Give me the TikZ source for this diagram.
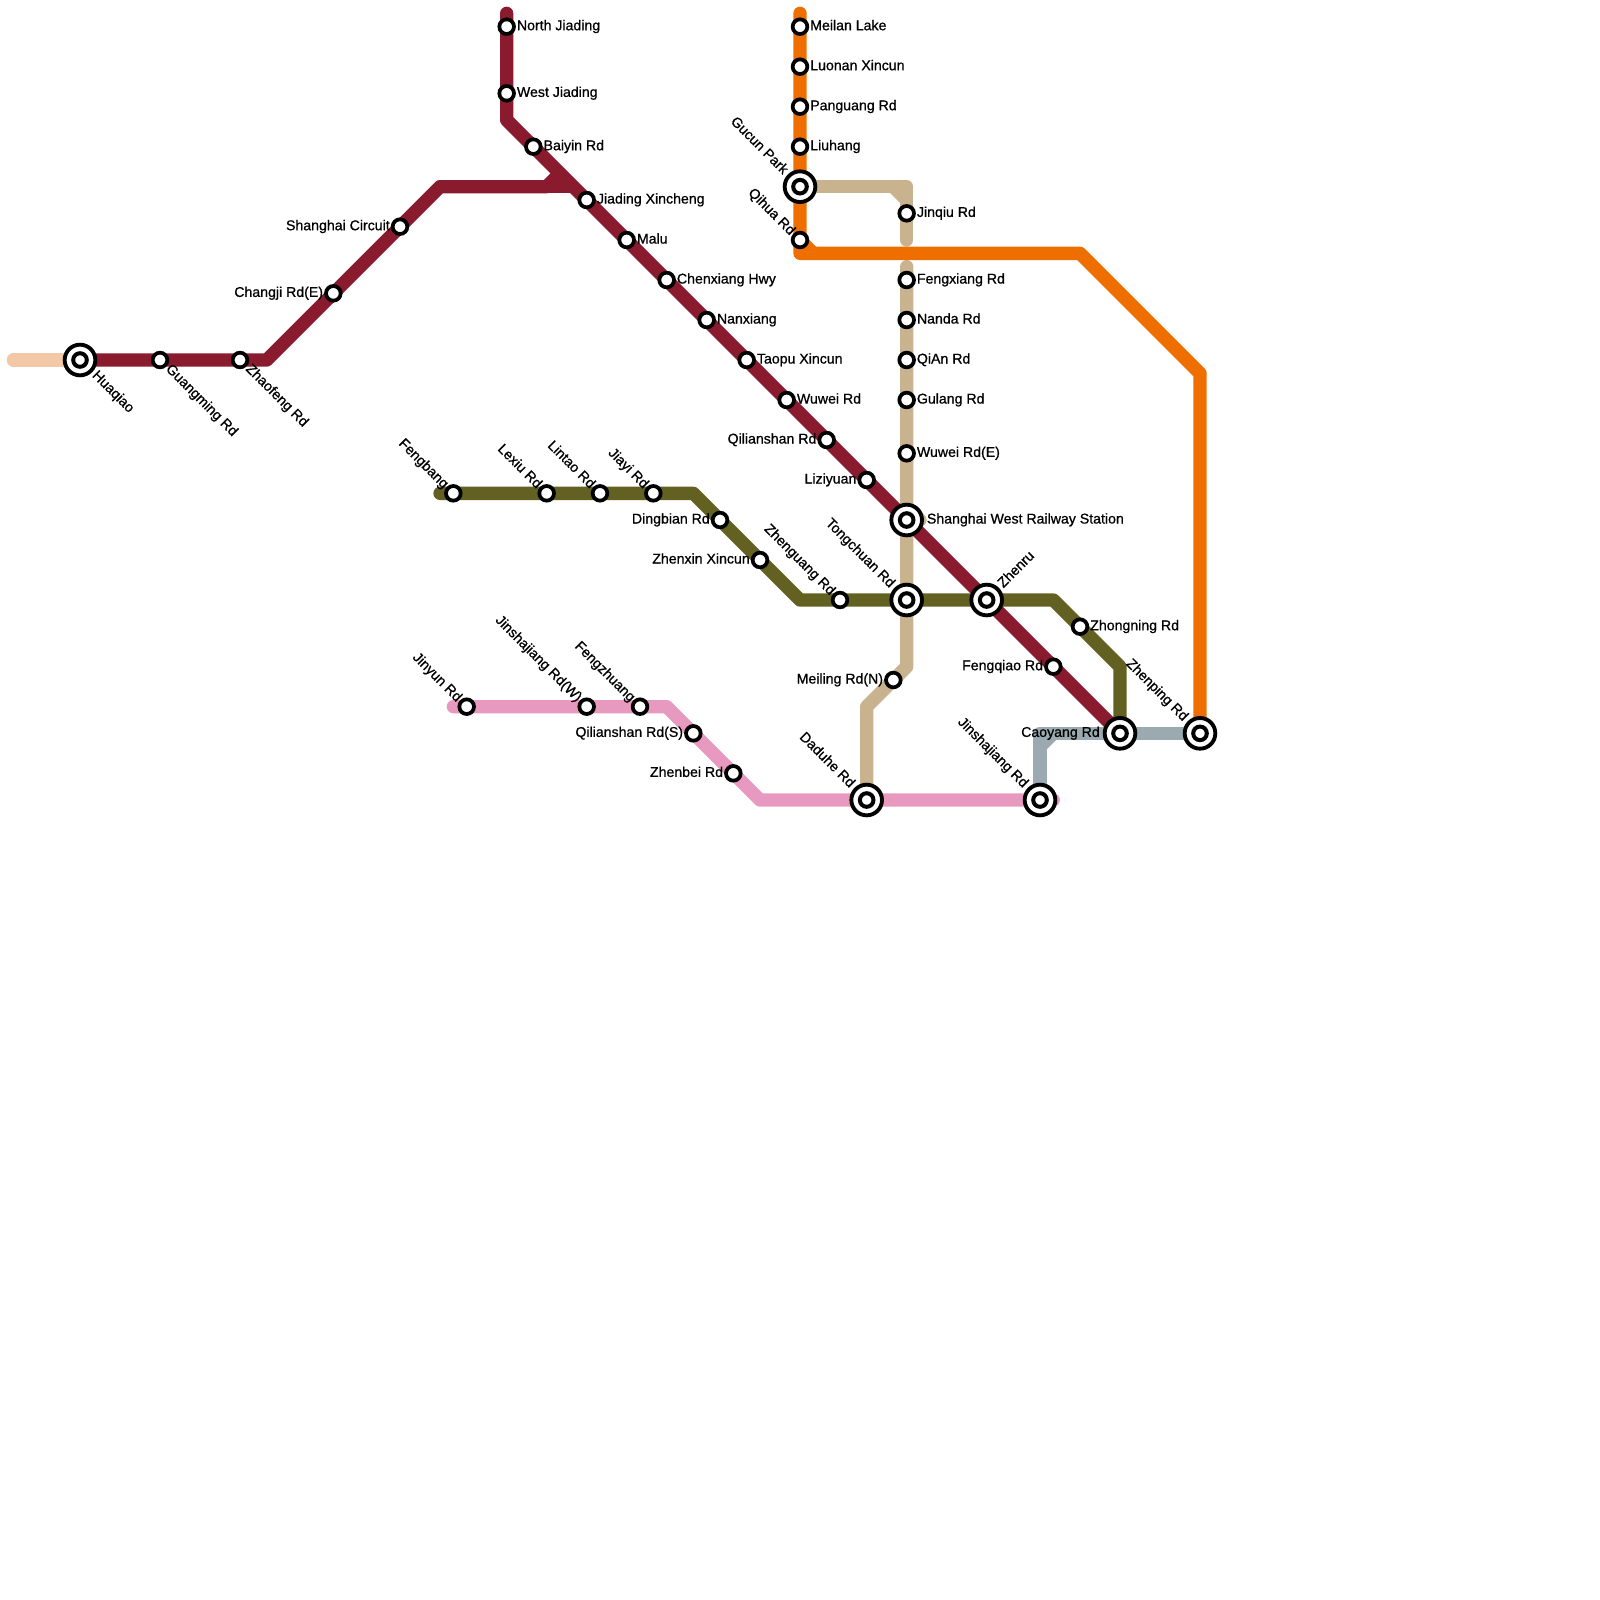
\documentclass[tikz,border=0pt]{standalone}
\usepackage{fontspec}
\setmainfont{Liberation Sans}[RawFeature={embolden=0.8}]
\usetikzlibrary{backgrounds}
\definecolor{cred}{HTML}{8A1A2E}
\definecolor{corange}{HTML}{EE6F00}
\definecolor{ctan}{HTML}{C9B38F}
\definecolor{colive}{HTML}{636122}
\definecolor{cpink}{HTML}{E899C0}
\definecolor{cgrey}{HTML}{9BAAB0}
\definecolor{cpeach}{HTML}{F3C8A6}
\tikzset{
  x=0.75pt,y=-0.75pt,
  metro/.style={line width=10pt,line cap=round,line join=round},
  metrobutt/.style={line width=10pt,line cap=butt,line join=round},
  stn/.style={circle,draw=black,fill=white,line width=2.8pt,inner sep=0pt,minimum size=11pt},
  hubo/.style={circle,draw=black,fill=white,line width=2.9pt,inner sep=0pt,minimum size=23pt},
  hubi/.style={circle,draw=black,fill=white,line width=3pt,inner sep=0pt,minimum size=10.2pt},
  lbl/.style={inner sep=0pt,font=\fontsize{10.6}{12}\selectfont,text height=7.3pt,text depth=2pt,text=black},
}
\newcommand{\Stn}[3]{\node[stn] (#1) at (#2,#3) {};}
\newcommand{\Hub}[3]{\node[hubo] (#1) at (#2,#3) {};\node[hubi] (#1c) at (#2,#3) {};}
\newcommand{\Rt}[2]{\path (#1) ++(10,0) node[lbl,anchor=west] (#1-l) {#2};}
\newcommand{\Lf}[2]{\path (#1) ++(-10,0) node[lbl,anchor=east] (#1-l) {#2};}
\newcommand{\SE}[2]{\path (#1) ++(7.5,7) node[lbl,anchor=west,rotate=-45] (#1-l) {#2};}
\newcommand{\NW}[2]{\path (#1) ++(-7.5,-6.5) node[lbl,anchor=east,rotate=-45] (#1-l) {#2};}
\newcommand{\HSE}[2]{\path (#1) ++(14,13.5) node[lbl,anchor=west,rotate=-45] (#1-l) {#2};}
\newcommand{\HNW}[2]{\path (#1) ++(-14.5,-14) node[lbl,anchor=east,rotate=-45] (#1-l) {#2};}
\newcommand{\HNE}[2]{\path (#1) ++(14,-14) node[lbl,anchor=west,rotate=45] (#1-l) {#2};}
\begin{document}
\begin{tikzpicture}
\useasboundingbox (0,0) rectangle (1600,1600);
% bend and end coordinates
\coordinate (rtop) at (506.67,13.33);
\coordinate (rb1) at (506.67,120);
\coordinate (bb1) at (266.67,360);
\coordinate (bb2) at (440,186.67);
\coordinate (bb3) at (573.33,186.67);
\coordinate (bw1) at (546.67,186.67);
\coordinate (bw2) at (560,173.33);
\coordinate (pk0) at (13.33,360);
\coordinate (ot) at (800,13.33);
\coordinate (oc) at (800,253.33);
\coordinate (oc1) at (813.33,253.33);
\coordinate (ob1) at (1080,253.33);
\coordinate (ob2) at (1200,373.33);
\coordinate (t1) at (906.67,186.67);
\coordinate (t1a) at (893.33,186.67);
\coordinate (t1b) at (906.67,200);
\coordinate (t2) at (906.67,240);
\coordinate (t3) at (906.67,266.67);
\coordinate (tb1) at (906.67,506.67);
\coordinate (tb2) at (920,520);
\coordinate (tb3) at (906.67,533.33);
\coordinate (t4) at (906.67,666.67);
\coordinate (t5) at (866.67,706.67);
\coordinate (g1) at (1040,733.33);
\coordinate (g1a) at (1040,746.67);
\coordinate (g1b) at (1053.33,733.33);
\coordinate (ol0) at (440,493.33);
\coordinate (ol1) at (693.33,493.33);
\coordinate (ol2) at (800,600);
\coordinate (ol3) at (1053.33,600);
\coordinate (ol4) at (1120,666.67);
\coordinate (p0) at (453.33,706.67);
\coordinate (p1) at (666.67,706.67);
\coordinate (p2) at (760,800);
\coordinate (p3) at (1053.33,800);
% stations
\Hub{huaqiao}{80}{360}
\Stn{guangming}{160}{360}
\Stn{zhaofeng}{240}{360}
\Stn{changji}{333.33}{293.33}
\Stn{circuit}{400}{226.67}
\Stn{njiading}{506.67}{26.67}
\Stn{wjiading}{506.67}{93.33}
\Stn{baiyin}{533.33}{146.67}
\Stn{xincheng}{586.67}{200}
\Stn{malu}{626.67}{240}
\Stn{chenxiang}{666.67}{280}
\Stn{nanxiang}{706.67}{320}
\Stn{taopu}{746.67}{360}
\Stn{wuwei}{786.67}{400}
\Stn{qilian}{826.67}{440}
\Stn{liziyuan}{866.67}{480}
\Hub{swest}{906.67}{520}
\Hub{zhenru}{986.67}{600}
\Stn{fengqiao}{1053.33}{666.67}
\Hub{caoyang}{1120}{733.33}
\Hub{zhenping}{1200}{733.33}
\Stn{meilan}{800}{26.67}
\Stn{luonan}{800}{66.67}
\Stn{panguang}{800}{106.67}
\Stn{liuhang}{800}{146.67}
\Hub{gucun}{800}{186.67}
\Stn{qihua}{800}{240}
\Stn{jinqiu}{906.67}{213.33}
\Stn{fengxiang}{906.67}{280}
\Stn{nanda}{906.67}{320}
\Stn{qian}{906.67}{360}
\Stn{gulang}{906.67}{400}
\Stn{wuweie}{906.67}{453.33}
\Hub{tongchuan}{906.67}{600}
\Stn{meiling}{893.33}{680}
\Hub{daduhe}{866.67}{800}
\Hub{jinsha}{1040}{800}
\Stn{fengbang}{453.33}{493.33}
\Stn{lexiu}{546.67}{493.33}
\Stn{lintao}{600}{493.33}
\Stn{jiayi}{653.33}{493.33}
\Stn{dingbian}{720}{520}
\Stn{zhenxin}{760}{560}
\Stn{zhenguang}{840}{600}
\Stn{zhongning}{1080}{626.67}
\Stn{jinyun}{466.67}{706.67}
\Stn{jinshaw}{586.67}{706.67}
\Stn{fengzhuang}{640}{706.67}
\Stn{qilians}{693.33}{733.33}
\Stn{zhenbei}{733.33}{773.33}
% lines
\begin{pgfonlayer}{background}
\draw[metro,cgrey] (jinsha.center) -- (g1) -- (zhenping.center);
\draw[metrobutt,cgrey] (g1a) -- (g1b);
\draw[metro,cpink] (p0) -- (p1) -- (p2) -- (p3);
\draw[metro,ctan] (gucun.center) -- (t1) -- (t2);
\draw[metrobutt,ctan] (t1a) -- (t1b);
\draw[metro,ctan] (t3) -- (tb1) -- (tb2) -- (tb3) -- (t4) -- (t5) -- (daduhe.center);
\draw[metro,ctan] (tb1) -- (tb3);
\draw[metro,cpeach] (pk0) -- (huaqiao.center);
\draw[metro,corange] (ot) -- (oc) -- (ob1) -- (ob2) -- (zhenping.center);
\draw[metrobutt,corange] (qihua.center) -- (oc1);
\draw[metro,colive] (ol0) -- (ol1) -- (ol2) -- (ol3) -- (ol4) -- (caoyang.center);
\draw[metro,cred] (rtop) -- (rb1) -- (caoyang.center);
\draw[metro,cred] (huaqiao.center) -- (bb1) -- (bb2) -- (bw1);
\draw[metrobutt,cred] (bb2) -- (bb3);
\draw[metrobutt,cred] (bw1) -- (bw2);
\end{pgfonlayer}
% labels
\HSE{huaqiao}{Huaqiao}
\SE{guangming}{Guangming Rd}
\SE{zhaofeng}{Zhaofeng Rd}
\Lf{changji}{Changji Rd(E)}
\Lf{circuit}{Shanghai Circuit}
\Rt{njiading}{North Jiading}
\Rt{wjiading}{West Jiading}
\Rt{baiyin}{Baiyin Rd}
\Rt{xincheng}{Jiading Xincheng}
\Rt{malu}{Malu}
\Rt{chenxiang}{Chenxiang Hwy}
\Rt{nanxiang}{Nanxiang}
\Rt{taopu}{Taopu Xincun}
\Rt{wuwei}{Wuwei Rd}
\Lf{qilian}{Qilianshan Rd}
\Lf{liziyuan}{Liziyuan}
\path (swest) ++(20,0) node[lbl,anchor=west] (swest-l) {Shanghai West Railway Station};
\HNE{zhenru}{Zhenru}
\Lf{fengqiao}{Fengqiao Rd}
\path (caoyang) ++(-20,0) node[lbl,anchor=east] (caoyang-l) {Caoyang Rd};
\HNW{zhenping}{Zhenping Rd}
\Rt{meilan}{Meilan Lake}
\Rt{luonan}{Luonan Xincun}
\Rt{panguang}{Panguang Rd}
\Rt{liuhang}{Liuhang}
\HNW{gucun}{Gucun Park}
\NW{qihua}{Qihua Rd}
\Rt{jinqiu}{Jinqiu Rd}
\Rt{fengxiang}{Fengxiang Rd}
\Rt{nanda}{Nanda Rd}
\Rt{qian}{QiAn Rd}
\Rt{gulang}{Gulang Rd}
\Rt{wuweie}{Wuwei Rd(E)}
\HNW{tongchuan}{Tongchuan Rd}
\Lf{meiling}{Meiling Rd(N)}
\HNW{daduhe}{Daduhe Rd}
\HNW{jinsha}{Jinshajiang Rd}
\NW{fengbang}{Fengbang}
\NW{lexiu}{Lexiu Rd}
\NW{lintao}{Lintao Rd}
\NW{jiayi}{Jiayi Rd}
\Lf{dingbian}{Dingbian Rd}
\Lf{zhenxin}{Zhenxin Xincun}
\NW{zhenguang}{Zhenguang Rd}
\Rt{zhongning}{Zhongning Rd}
\NW{jinyun}{Jinyun Rd}
\NW{jinshaw}{Jinshajiang Rd(W)}
\NW{fengzhuang}{Fengzhuang}
\Lf{qilians}{Qilianshan Rd(S)}
\Lf{zhenbei}{Zhenbei Rd}
\end{tikzpicture}
\end{document}
